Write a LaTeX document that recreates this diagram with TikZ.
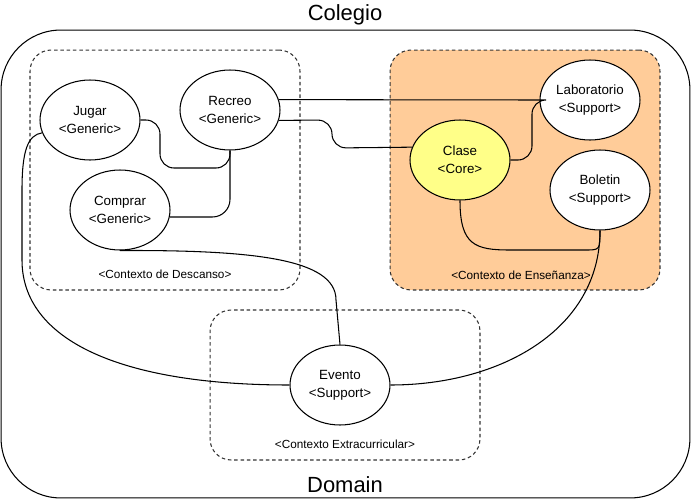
\documentclass[tikz,border=0pt]{standalone}
\usepackage{fontspec}
\setmainfont{Liberation Sans}
\usetikzlibrary{shapes.geometric,positioning}
\definecolor{ensfill}{HTML}{FFCC99}
\definecolor{corefill}{HTML}{FFFF88}

\begin{document}
\begin{tikzpicture}[x=0.02cm, y=-0.02cm, line width=0.6pt,
    svc/.style={draw, ellipse, fill=white, minimum width=2cm, minimum height=1.6cm, inner sep=0pt, align=center, font=\fontsize{7.6}{10.2}\selectfont},
    ctx/.style={draw=black!80, dash pattern=on 2pt off 1.6pt, rounded corners=12pt, minimum width=5.4cm},
    ctxlbl/.style={font=\fontsize{6.7}{8}\selectfont},
    ttl/.style={font=\fontsize{12.5}{14}\selectfont}]
    \useasboundingbox (0,0) rectangle (691,501);

    % outer domain
    \node[draw, rounded corners=34pt, minimum width=13.78cm, minimum height=9.36cm] (School) at (345.5,264) {};
    \node[ttl] (Colegio) at (345,15) {Colegio};
    \node[ttl] (Domain) at (345,485) {Domain};

    % contexts
    \node[ctx, minimum height=4.8cm] (Descanso) at (165,170) {};
    \node[ctx, fill=ensfill, minimum height=4.8cm] (Ensenanza) at (525,170) {};
    \node[ctx, minimum height=3cm] (Extra) at (345,385) {};
    \node[ctxlbl] (DescansoLbl) at (165,274) {<Contexto de Descanso>};
    \node[ctxlbl] (EnsenanzaLbl) at (521,275) {<Contexto de Enseñanza>};
    \node[ctxlbl] (ExtraLbl) at (345,444) {<Contexto Extracurricular>};

    % Descanso tree
    \node[svc] (Jugar) at (90,120) {Jugar\\<Generic>};
    \node[svc] (Recreo) at (230,110) {Recreo\\<Generic>};
    \node[svc] (Comprar) at (120,210) {Comprar\\<Generic>};

    % Ensenanza tree
    \node[svc, fill=corefill] (Clase) at (460,160) {Clase\\<Core>};
    \node[svc] (Lab) at (590,100) {Laboratorio\\<Support>};
    \node[svc] (Boletin) at (600,190) {Boletin\\<Support>};

    % Extracurricular
    \node[svc] (Evento) at (340,385) {Evento\\<Support>};

    % links
    \draw[rounded corners=8pt] (Jugar.east) -- (160,120) -- (160,168) -- (230,168) -- (Recreo.south);
    \draw[rounded corners=10pt] (Comprar.-8) -- (230,217) -- (Recreo.south);
    \draw (Recreo.12) -- (Lab.west);
    \draw[rounded corners=8pt] (Recreo.-12) -- (332,120) -- (332,148) -- (Clase.165);
    \draw[rounded corners=8pt] (Clase.east) -- (532,160) -- (532,100) -- (Lab.west);
    \draw (Clase.south) .. controls (460,245) and (475,250) .. (510,250) -- (585,250) .. controls (600,250) .. (Boletin.south);
    \draw (Boletin.south) .. controls (600,330) and (500,385) .. (Evento.east);
    \draw (Comprar.south) .. controls (250,250) and (336,258) .. (336,300) -- (Evento.north);
    \draw (Jugar.195) .. controls (28,135) and (22,150) .. (22,190) -- (22,260) .. controls (22,340) and (120,385) .. (Evento.west);
\end{tikzpicture}
\end{document}
